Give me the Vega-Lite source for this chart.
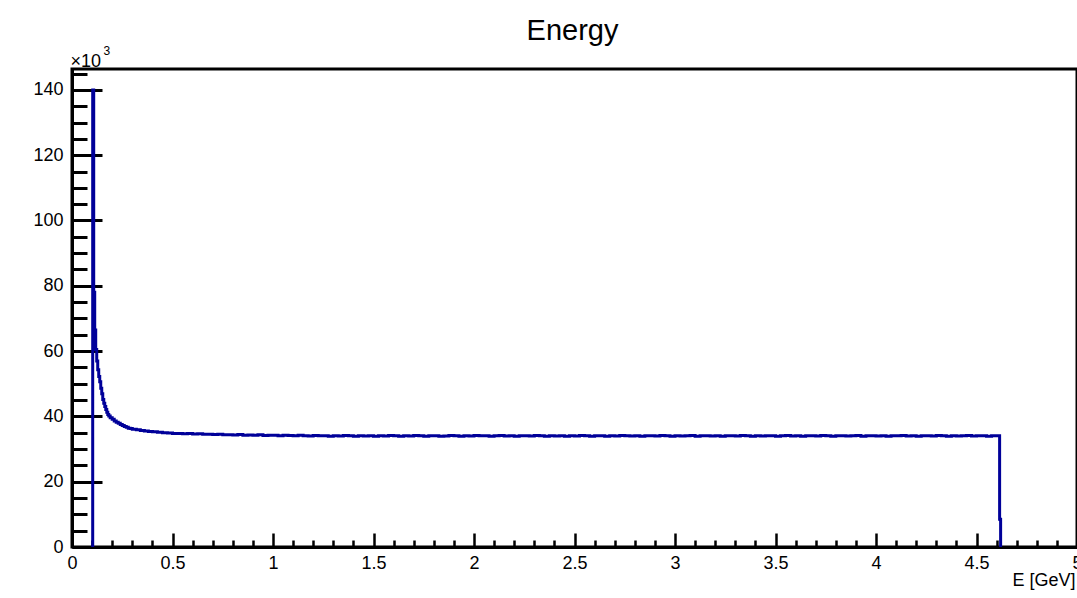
{
  "$schema": "https://vega.github.io/schema/vega-lite/v6.json",
  "width": 1005,
  "height": 478,
  "autosize": {"type": "none"},
  "padding": {"left": 72, "top": 69, "right": 0, "bottom": 51},
  "background": "white",
  "config": {
    "view": {"stroke": "black", "strokeWidth": 3},
    "axis": {"grid": false, "labelFont": "Liberation Sans", "labelFontSize": 18, "labelColor": "black", "titleFont": "Liberation Sans", "titleFontSize": 18, "titleFontWeight": "normal", "titleColor": "black", "tickColor": "black", "domainColor": "black", "labelFlush": false, "labelOverlap": false, "labelBound": false, "zindex": 1}
  },
  "data": {"values": [
    {"E": 0.103, "count": 0},
    {"E": 0.103, "count": 140000},
    {"E": 0.108, "count": 78000},
    {"E": 0.113, "count": 66500},
    {"E": 0.118, "count": 60500},
    {"E": 0.123, "count": 57000},
    {"E": 0.128, "count": 54300},
    {"E": 0.133, "count": 52200},
    {"E": 0.138, "count": 50600},
    {"E": 0.143, "count": 48600},
    {"E": 0.148, "count": 46900},
    {"E": 0.153, "count": 45200},
    {"E": 0.158, "count": 44000},
    {"E": 0.163, "count": 43000},
    {"E": 0.168, "count": 42100},
    {"E": 0.173, "count": 41300},
    {"E": 0.178, "count": 40600},
    {"E": 0.183, "count": 40100},
    {"E": 0.19, "count": 39600},
    {"E": 0.2, "count": 39100},
    {"E": 0.21, "count": 38600},
    {"E": 0.22, "count": 38200},
    {"E": 0.23, "count": 37900},
    {"E": 0.24, "count": 37500},
    {"E": 0.25, "count": 37200},
    {"E": 0.26, "count": 36900},
    {"E": 0.27, "count": 36700},
    {"E": 0.28, "count": 36400},
    {"E": 0.29, "count": 36300},
    {"E": 0.3, "count": 36100},
    {"E": 0.32, "count": 35900},
    {"E": 0.34, "count": 35700},
    {"E": 0.36, "count": 35500},
    {"E": 0.38, "count": 35400},
    {"E": 0.4, "count": 35300},
    {"E": 0.425, "count": 35150},
    {"E": 0.45, "count": 35000},
    {"E": 0.475, "count": 34950},
    {"E": 0.5, "count": 34800},
    {"E": 0.525, "count": 34800},
    {"E": 0.55, "count": 34700},
    {"E": 0.575, "count": 34750},
    {"E": 0.6, "count": 34600},
    {"E": 0.625, "count": 34650},
    {"E": 0.65, "count": 34500},
    {"E": 0.675, "count": 34550},
    {"E": 0.7, "count": 34450},
    {"E": 0.725, "count": 34500},
    {"E": 0.75, "count": 34350},
    {"E": 0.775, "count": 34400},
    {"E": 0.8, "count": 34300},
    {"E": 0.825, "count": 34450},
    {"E": 0.85, "count": 34250},
    {"E": 0.875, "count": 34300},
    {"E": 0.9, "count": 34200},
    {"E": 0.925, "count": 34350},
    {"E": 0.95, "count": 34150},
    {"E": 0.975, "count": 34250},
    {"E": 1.0, "count": 34200},
    {"E": 1.025, "count": 34100},
    {"E": 1.05, "count": 34250},
    {"E": 1.075, "count": 34150},
    {"E": 1.1, "count": 34050},
    {"E": 1.125, "count": 34200},
    {"E": 1.15, "count": 34100},
    {"E": 1.175, "count": 34000},
    {"E": 1.2, "count": 34150},
    {"E": 1.225, "count": 34050},
    {"E": 1.25, "count": 34100},
    {"E": 1.275, "count": 33950},
    {"E": 1.3, "count": 34100},
    {"E": 1.325, "count": 34000},
    {"E": 1.35, "count": 34150},
    {"E": 1.375, "count": 34050},
    {"E": 1.4, "count": 33950},
    {"E": 1.425, "count": 34100},
    {"E": 1.45, "count": 34000},
    {"E": 1.475, "count": 34050},
    {"E": 1.5, "count": 33950},
    {"E": 1.525, "count": 34100},
    {"E": 1.55, "count": 34000},
    {"E": 1.575, "count": 34150},
    {"E": 1.6, "count": 34050},
    {"E": 1.625, "count": 33950},
    {"E": 1.65, "count": 34100},
    {"E": 1.675, "count": 34000},
    {"E": 1.7, "count": 34150},
    {"E": 1.725, "count": 34050},
    {"E": 1.75, "count": 33950},
    {"E": 1.775, "count": 34050},
    {"E": 1.8, "count": 34100},
    {"E": 1.825, "count": 33950},
    {"E": 1.85, "count": 34000},
    {"E": 1.875, "count": 34150},
    {"E": 1.9, "count": 34050},
    {"E": 1.925, "count": 33950},
    {"E": 1.95, "count": 34100},
    {"E": 1.975, "count": 34000},
    {"E": 2.0, "count": 34150},
    {"E": 2.025, "count": 34050},
    {"E": 2.05, "count": 34100},
    {"E": 2.075, "count": 33950},
    {"E": 2.1, "count": 34050},
    {"E": 2.125, "count": 34150},
    {"E": 2.15, "count": 34000},
    {"E": 2.175, "count": 34100},
    {"E": 2.2, "count": 33950},
    {"E": 2.225, "count": 34050},
    {"E": 2.25, "count": 34100},
    {"E": 2.275, "count": 34000},
    {"E": 2.3, "count": 34150},
    {"E": 2.325, "count": 34050},
    {"E": 2.35, "count": 33950},
    {"E": 2.375, "count": 34100},
    {"E": 2.4, "count": 34000},
    {"E": 2.425, "count": 34050},
    {"E": 2.45, "count": 33950},
    {"E": 2.475, "count": 34100},
    {"E": 2.5, "count": 34000},
    {"E": 2.525, "count": 34150},
    {"E": 2.55, "count": 34050},
    {"E": 2.575, "count": 33950},
    {"E": 2.6, "count": 34050},
    {"E": 2.625, "count": 34100},
    {"E": 2.65, "count": 33950},
    {"E": 2.675, "count": 34050},
    {"E": 2.7, "count": 34000},
    {"E": 2.725, "count": 34150},
    {"E": 2.75, "count": 34050},
    {"E": 2.775, "count": 34000},
    {"E": 2.8, "count": 34100},
    {"E": 2.825, "count": 33950},
    {"E": 2.85, "count": 34050},
    {"E": 2.875, "count": 34100},
    {"E": 2.9, "count": 34000},
    {"E": 2.925, "count": 34150},
    {"E": 2.95, "count": 34050},
    {"E": 2.975, "count": 33950},
    {"E": 3.0, "count": 34100},
    {"E": 3.025, "count": 34000},
    {"E": 3.05, "count": 34050},
    {"E": 3.075, "count": 34150},
    {"E": 3.1, "count": 33950},
    {"E": 3.125, "count": 34050},
    {"E": 3.15, "count": 34100},
    {"E": 3.175, "count": 34000},
    {"E": 3.2, "count": 34050},
    {"E": 3.225, "count": 33950},
    {"E": 3.25, "count": 34100},
    {"E": 3.275, "count": 34050},
    {"E": 3.3, "count": 34000},
    {"E": 3.325, "count": 34150},
    {"E": 3.35, "count": 34050},
    {"E": 3.375, "count": 33950},
    {"E": 3.4, "count": 34100},
    {"E": 3.425, "count": 34000},
    {"E": 3.45, "count": 34050},
    {"E": 3.475, "count": 34100},
    {"E": 3.5, "count": 33950},
    {"E": 3.525, "count": 34050},
    {"E": 3.55, "count": 34150},
    {"E": 3.575, "count": 34000},
    {"E": 3.6, "count": 34050},
    {"E": 3.625, "count": 33950},
    {"E": 3.65, "count": 34100},
    {"E": 3.675, "count": 34050},
    {"E": 3.7, "count": 34000},
    {"E": 3.725, "count": 34150},
    {"E": 3.75, "count": 34050},
    {"E": 3.775, "count": 33950},
    {"E": 3.8, "count": 34050},
    {"E": 3.825, "count": 34100},
    {"E": 3.85, "count": 34000},
    {"E": 3.875, "count": 34050},
    {"E": 3.9, "count": 34150},
    {"E": 3.925, "count": 33950},
    {"E": 3.95, "count": 34050},
    {"E": 3.975, "count": 34100},
    {"E": 4.0, "count": 34000},
    {"E": 4.025, "count": 34050},
    {"E": 4.05, "count": 33950},
    {"E": 4.075, "count": 34100},
    {"E": 4.1, "count": 34050},
    {"E": 4.125, "count": 34150},
    {"E": 4.15, "count": 34000},
    {"E": 4.175, "count": 34050},
    {"E": 4.2, "count": 33950},
    {"E": 4.225, "count": 34100},
    {"E": 4.25, "count": 34050},
    {"E": 4.275, "count": 34000},
    {"E": 4.3, "count": 34150},
    {"E": 4.325, "count": 34050},
    {"E": 4.35, "count": 33950},
    {"E": 4.375, "count": 34100},
    {"E": 4.4, "count": 34000},
    {"E": 4.425, "count": 34050},
    {"E": 4.45, "count": 34150},
    {"E": 4.475, "count": 34000},
    {"E": 4.5, "count": 34050},
    {"E": 4.525, "count": 34100},
    {"E": 4.55, "count": 33950},
    {"E": 4.575, "count": 34100},
    {"E": 4.6, "count": 34100},
    {"E": 4.615, "count": 8500},
    {"E": 4.62, "count": 0}
  ]},
  "layer": [
    {
      "mark": {"type": "line", "opacity": 0},
      "encoding": {
        "x": {"field": "E", "type": "quantitative", "scale": {"domain": [0, 5], "nice": false, "zero": false},
          "axis": {"orient": "bottom", "title": null, "labels": false, "domain": false, "tickSize": -7, "tickWidth": 2.5,
            "values": [0.1,0.2,0.3,0.4,0.6,0.7,0.8,0.9,1.1,1.2,1.3,1.4,1.6,1.7,1.8,1.9,2.1,2.2,2.3,2.4,2.6,2.7,2.8,2.9,3.1,3.2,3.3,3.4,3.6,3.7,3.8,3.9,4.1,4.2,4.3,4.4,4.6,4.7,4.8,4.9]}},
        "y": {"field": "count", "type": "quantitative", "scale": {"domain": [0, 146400], "nice": false},
          "axis": {"orient": "left", "labels": false, "domain": false, "tickSize": -15, "tickWidth": 3,
            "values": [5000,10000,15000,25000,30000,35000,45000,50000,55000,65000,70000,75000,85000,90000,95000,105000,110000,115000,125000,130000,135000,145000],
            "title": "3", "titleFontSize": 12, "titleAngle": 0, "titleAlign": "left", "titleBaseline": "alphabetic", "titleX": 31, "titleY": -15}}
      }
    },
    {
      "mark": {"type": "line", "opacity": 0},
      "encoding": {
        "x": {"field": "E", "type": "quantitative",
          "axis": {"orient": "bottom", "title": null, "labels": false, "domain": false, "tickSize": -14, "tickWidth": 2.5,
            "values": [0,0.5,1,1.5,2,2.5,3,3.5,4,4.5,5]}},
        "y": {"field": "count", "type": "quantitative",
          "axis": {"orient": "left", "title": null, "labels": false, "domain": false, "tickSize": -30, "tickWidth": 3,
            "values": [0,20000,40000,60000,80000,100000,120000,140000]}}
      }
    },
    {
      "mark": {"type": "line", "opacity": 0},
      "encoding": {
        "x": {"field": "E", "type": "quantitative",
          "axis": {"orient": "top", "ticks": false, "labels": false, "domain": false,
            "title": "Energy", "titleFontSize": 29, "titleAlign": "center", "titleBaseline": "alphabetic", "titleX": 500, "titleY": -30}}
      }
    },
    {
      "mark": {"type": "line", "interpolate": "step-after", "color": "#000099", "strokeWidth": 3},
      "encoding": {
        "x": {"field": "E", "type": "quantitative",
          "axis": {"orient": "bottom", "ticks": false, "domain": true, "domainWidth": 3, "labelPadding": 7, "labelBaseline": "top",
            "values": [0,0.5,1,1.5,2,2.5,3,3.5,4,4.5,5], "format": "~g",
            "title": "E [GeV]", "titleAlign": "right", "titleBaseline": "alphabetic", "titleX": 1003, "titleY": 38}},
        "y": {"field": "count", "type": "quantitative",
          "axis": {"orient": "left", "ticks": false, "domain": true, "domainWidth": 3, "labelPadding": 9,
            "values": [0,20000,40000,60000,80000,100000,120000,140000], "labelExpr": "datum.value / 1000",
            "title": "×10", "titleFontSize": 18, "titleAngle": 0, "titleAlign": "left", "titleBaseline": "alphabetic", "titleX": -2, "titleY": -3}}
      }
    }
  ],
  "resolve": {"axis": {"x": "independent", "y": "independent"}}
}
